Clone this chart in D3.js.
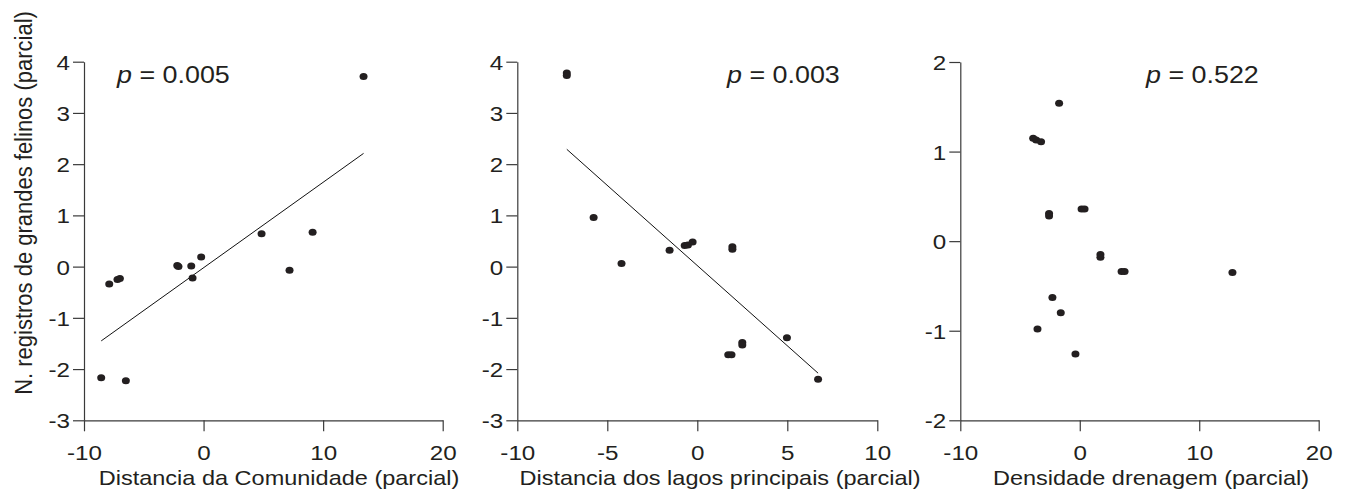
<!DOCTYPE html>
<html>
<head>
<meta charset="utf-8">
<script src="https://cdn.jsdelivr.net/npm/d3@7"></script>
<style>
  html, body { margin: 0; padding: 0; background: #fff; }
  svg { display: block; }
  text { font-family: "Liberation Sans", Arial, Helvetica, sans-serif; fill: #231f20; }
</style>
</head>
<body>
<svg id="chart" width="1352" height="495"></svg>
<script>
// ---------------- DATA ----------------
const yAxisTitle = "N. registros de grandes felinos (parcial)";

const p1Title = "Distancia da Comunidade (parcial)";
const p1XTicks = [-10, 0, 10, 20];
const p1YTicks = [-3, -2, -1, 0, 1, 2, 3, 4];
const p1X = [13.38, -8.56, -6.50, -7.89, -7.20, -7.00, -2.20, -2.10, -1.03, -0.92, -0.20, 4.85, 7.19, 9.12];
const p1Y = [3.71, -2.17, -2.23, -0.34, -0.25, -0.23, 0.02, 0.00, 0.01, -0.22, 0.19, 0.64, -0.07, 0.67];
const p1FitX = [-8.56, 13.38];
const p1FitY = [-1.45, 2.21];
const p1P = "0.005";

const p2Title = "Distancia dos lagos principais (parcial)";
const p2XTicks = [-10, -5, 0, 5, 10];
const p2YTicks = [-3, -2, -1, 0, 1, 2, 3, 4];
const p2X = [-7.25, -7.25, -5.76, -4.21, -1.54, -0.70, -0.52, -0.26, 1.95, 1.95, 1.72, 1.90, 2.50, 2.50, 4.98, 6.71];
const p2Y = [3.78, 3.73, 0.96, 0.06, 0.32, 0.41, 0.42, 0.48, 0.39, 0.34, -1.72, -1.72, -1.48, -1.53, -1.39, -2.20];
const p2FitX = [-7.25, 6.71];
const p2FitY = [2.29, -2.08];
const p2P = "0.003";

const p3Title = "Densidade drenagem (parcial)";
const p3XTicks = [-10, 0, 10, 20];
const p3YTicks = [-2, -1, 0, 1, 2];
const p3X = [-1.73, -3.90, -3.65, -3.24, -2.57, -2.57, 0.15, 0.40, 1.73, 1.73, 3.50, 3.75, 12.78, -2.29, -1.59, -3.54, -0.36];
const p3Y = [1.54, 1.15, 1.13, 1.11, 0.31, 0.28, 0.36, 0.36, -0.15, -0.18, -0.34, -0.34, -0.35, -0.63, -0.80, -0.98, -1.26];
const p3P = "0.522";

// ---------------- LAYOUT ----------------
const svg = d3.select("#chart");
const SX = 1.12;      // horizontal text stretch seen in the reference
const SXT = 1.18;     // tick label stretch
const ink = "#231f20";
const axisCol = "#3a3a3a";

const panels = [
  { xs: p1X, ys: p1Y, fx: p1FitX, fy: p1FitY, xt: p1XTicks, yt: p1YTicks, title: p1Title, p: p1P,
    xr: [84, 442.7], yr: [420.3, 61.7], xd: [-10, 20], yd: [-3, 4], pX: 117, titleX: 279 },
  { xs: p2X, ys: p2Y, fx: p2FitX, fy: p2FitY, xt: p2XTicks, yt: p2YTicks, title: p2Title, p: p2P,
    xr: [517.3, 877.3], yr: [420.3, 61.7], xd: [-10, 10], yd: [-3, 4], pX: 727, titleX: 720 },
  { xs: p3X, ys: p3Y, fx: null, fy: null, xt: p3XTicks, yt: p3YTicks, title: p3Title, p: p3P,
    xr: [960.3, 1318.7], yr: [420.3, 62], xd: [-10, 20], yd: [-2, 2], pX: 1146, titleX: 1151 }
];

function stretchText(sel, x, y, anchor) {
  sel.attr("text-anchor", anchor)
     .attr("transform", `translate(${x},${y}) scale(${SX},1)`);
}

const fmt = d => String(d);

panels.forEach(P => {
  const x = d3.scaleLinear().domain(P.xd).range(P.xr);
  const y = d3.scaleLinear().domain(P.yd).range(P.yr);
  const g = svg.append("g");

  const xa = g.append("g").attr("transform", `translate(0,${P.yr[0]})`)
    .call(d3.axisBottom(x).tickValues(P.xt).tickSize(11).tickSizeOuter(0).tickFormat(fmt));
  const ya = g.append("g").attr("transform", `translate(${P.xr[0]},0)`)
    .call(d3.axisLeft(y).tickValues(P.yt).tickSize(11).tickSizeOuter(0).tickFormat(fmt));

  [xa, ya].forEach(a => {
    a.select(".domain").attr("stroke", axisCol).attr("stroke-width", 1.2);
    a.selectAll(".tick line").attr("stroke", axisCol).attr("stroke-width", 1.2);
    a.selectAll(".tick text").attr("font-size", 20.5).attr("fill", ink)
      .style("font-family", "'Liberation Sans', Arial, sans-serif");
  });
  xa.selectAll(".tick text")
    .attr("y", null).attr("dy", null).attr("x", null)
    .attr("text-anchor", "middle")
    .attr("transform", `translate(0,39.5) scale(${SXT},1)`);
  ya.selectAll(".tick text")
    .attr("x", null).attr("dy", null)
    .attr("text-anchor", "end")
    .attr("transform", `translate(-14,7.5) scale(${SXT},1)`);

  if (P.fx) {
    g.append("line")
      .attr("x1", x(P.fx[0])).attr("y1", y(P.fy[0]))
      .attr("x2", x(P.fx[1])).attr("y2", y(P.fy[1]))
      .attr("stroke", "#111").attr("stroke-width", 1);
  }

  g.selectAll("ellipse.pt").data(P.xs.map((v, i) => [v, P.ys[i]]))
    .enter().append("ellipse").attr("class", "pt")
    .attr("cx", d => x(d[0])).attr("cy", d => y(d[1]))
    .attr("rx", 4).attr("ry", 3.5)
    .attr("fill", ink);

  const pt = g.append("text").attr("font-size", 24);
  pt.append("tspan").attr("font-style", "italic").text("p");
  pt.append("tspan").text(" = " + P.p);
  stretchText(pt, P.pX, 83, "start");

  const xt = g.append("text").attr("font-size", 21).text(P.title);
  stretchText(xt, P.titleX, 485, "middle");
});

svg.append("text")
  .attr("font-size", 22)
  .attr("text-anchor", "middle")
  .attr("transform", `translate(32,203) rotate(-90) scale(1,${SX})`)
  .text(yAxisTitle);
</script>
</body>
</html>
